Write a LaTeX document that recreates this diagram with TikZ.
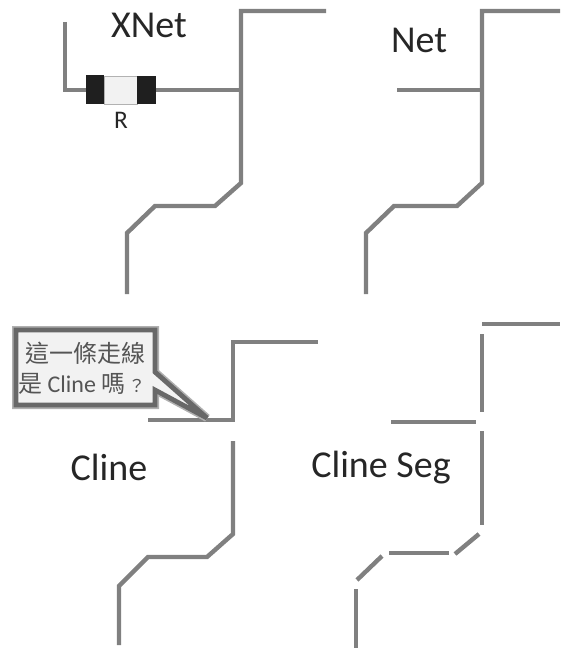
\documentclass[tikz,border=0pt]{standalone}
\usepackage{fontspec}
\setmainfont{Carlito}
\newfontfamily\cjk{Noto Sans CJK TC}
\definecolor{wire}{HTML}{808080}
\definecolor{calloutfill}{HTML}{F2F2F2}
\definecolor{calloutline}{HTML}{686868}
\definecolor{calloutglow}{HTML}{B0B0B0}
\definecolor{calltext}{HTML}{555555}
\tikzset{
  wireline/.style={draw=wire,line width=3.3pt,line join=miter},
  title/.style={font=\fontsize{28.5pt}{30pt}\selectfont,text=black!85,inner sep=0pt,anchor=center},
  capband/.style={fill=black!88,draw=none},
}
\begin{document}
\begin{tikzpicture}[x=0.75pt,y=-0.75pt]
\useasboundingbox (0,0) rectangle (560,649);
% XNet
\draw[wireline] (65,22) -- (65,90) -- (88,90);
\draw[wireline] (156,90) -- (241,90);
\draw[wireline] (326,11) -- (241,11) -- (241,183) -- (215,206) -- (155,206) -- (127,233) -- (127,294);
\fill[calloutfill,draw=black!30,line width=.6pt] (104,76) rectangle (137,104);
\fill[capband] (86,75) rectangle (104,104);
\fill[capband] (137,76) rectangle (156,104);
\node[title] (xnet) at (149,25) {XNet};
\node[font=\fontsize{19pt}{21pt}\selectfont,text=black!85,inner sep=0pt] (r) at (121,120) {R};
% Net
\draw[wireline] (397,90) -- (482,90);
\draw[wireline] (560,11) -- (482,11) -- (482,183) -- (457,206) -- (394,206) -- (366,233) -- (366,294);
\node[title] (net) at (419,40) {Net};
% Cline
\draw[wireline] (148,420) -- (233,420) -- (233,342) -- (318,342);
\draw[wireline] (233,441) -- (233,534) -- (207,557) -- (148,557) -- (119,586) -- (119,645);
\node[title] (cline) at (109,467) {Cline};
% Cline Seg
\draw[wireline] (482,324) -- (560,324);
\draw[wireline] (482,334) -- (482,412);
\draw[wireline] (391,422) -- (476,422);
\draw[wireline] (482,431) -- (482,525);
\draw[wireline] (479,534) -- (455,554);
\draw[wireline] (389,553) -- (449,553);
\draw[wireline] (382,556) -- (357,580);
\draw[wireline] (356,589) -- (356,648);
\node[title] (seg) at (381,468) {Cline Seg};
% Callout
\draw[calloutglow,line width=6pt,line join=miter,miter limit=2]
  (16,330) -- (155,330) -- (155,372) -- (207,418) -- (155,390) -- (155,405) -- (16,405) -- cycle;
\draw[calloutline,fill=calloutfill,line width=3.6pt,line join=miter,miter limit=2]
  (16,330) -- (155,330) -- (155,372) -- (207,418) -- (155,390) -- (155,405) -- (16,405) -- cycle;
\node[font=\cjk\fontsize{18pt}{20pt}\selectfont,text=calltext,inner sep=0pt] (q1) at (85,353) {這一條走線};
\node[font=\fontsize{18pt}{20pt}\selectfont,text=calltext,inner sep=0pt] (q2) at (82,384)
  {{\cjk 是} Cline {\cjk 嗎}{\cjk\fontsize{13pt}{15pt}\selectfont\,？}};
\end{tikzpicture}
\end{document}
